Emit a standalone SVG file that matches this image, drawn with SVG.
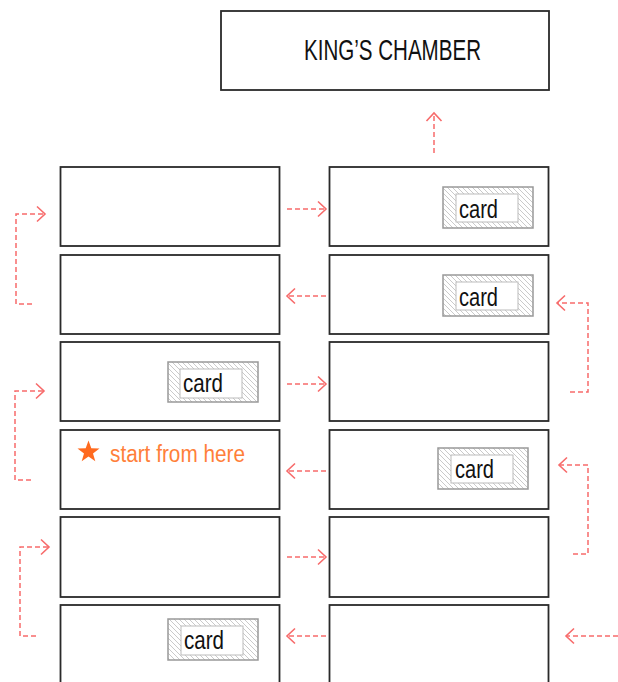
<svg xmlns="http://www.w3.org/2000/svg" width="618" height="682" viewBox="0 0 618 682">
<style>
.box{fill:#fff;stroke:#2a2a2a;stroke-width:1.8}
.outer{fill:url(#hatch);stroke:#999;stroke-width:1.5}
.inner{fill:#fff;stroke:#bbb;stroke-width:1}
.card{font-family:"Liberation Sans",Arial,sans-serif;font-size:25px;fill:#111}
.title{font-family:"Liberation Sans",Arial,sans-serif;font-size:29px;fill:#111}
.start{font-family:"Liberation Sans",Arial,sans-serif;font-size:23px;fill:#ff7f3a}
.conn{fill:none;stroke:#f76b6b;stroke-width:1.5;stroke-dasharray:5 3;marker-end:url(#arr)}
</style>
<defs>
<pattern id="hatch" patternUnits="userSpaceOnUse" width="5" height="5">
<rect width="5" height="5" fill="#fff"/>
<path d="M-1,-1 L6,6 M-1,4 L1,6 M4,-1 L6,1" stroke="#c4c4c4" stroke-width="0.9"/>
</pattern>
<marker id="arr" markerUnits="userSpaceOnUse" markerWidth="14" markerHeight="20" refX="10" refY="9" orient="auto">
<path d="M2,1.5 L10,9 L2,16.5" fill="none" stroke="#f76b6b" stroke-width="1.6" stroke-dasharray="none"/>
</marker>
</defs>

<g id="kings-chamber">
<rect class="box" x="221" y="11" width="328" height="79"/>
<text class="title" x="304" y="60" textLength="177" lengthAdjust="spacingAndGlyphs">KING’S CHAMBER</text>
</g>

<g id="L1"><rect class="box" x="60.5" y="167" width="219" height="79"/></g>
<g id="R1"><rect class="box" x="329.5" y="167" width="219" height="79"/>
<rect class="outer" x="443" y="187" width="90" height="41"/>
<rect class="inner" x="456" y="194" width="62" height="28"/>
<text class="card" x="459" y="218" textLength="39" lengthAdjust="spacingAndGlyphs">card</text>
</g>

<g id="L2"><rect class="box" x="60.5" y="255" width="219" height="79"/></g>
<g id="R2"><rect class="box" x="329.5" y="255" width="219" height="79"/>
<rect class="outer" x="443" y="275" width="90" height="41"/>
<rect class="inner" x="456" y="282" width="62" height="28"/>
<text class="card" x="459" y="306" textLength="39" lengthAdjust="spacingAndGlyphs">card</text>
</g>

<g id="L3"><rect class="box" x="60.5" y="342" width="219" height="79"/>
<rect class="outer" x="168" y="362" width="90" height="40"/>
<rect class="inner" x="180" y="369" width="62" height="29"/>
<text class="card" x="183" y="392" textLength="40" lengthAdjust="spacingAndGlyphs">card</text>
</g>
<g id="R3"><rect class="box" x="329.5" y="342" width="219" height="79"/></g>

<g id="L4"><rect class="box" x="60.5" y="430" width="219" height="79"/>
<path d="M88.5,440.5 L91.3,448.2 L99.5,448.4 L93,453.4 L95.3,461.3 L88.5,456.6 L81.7,461.3 L84,453.4 L77.5,448.4 L85.7,448.2 Z" fill="#ff6a1f"/>
<text class="start" x="110" y="462" textLength="135" lengthAdjust="spacingAndGlyphs">start from here</text>
</g>
<g id="R4"><rect class="box" x="329.5" y="430" width="219" height="79"/>
<rect class="outer" x="438" y="448" width="90" height="41"/>
<rect class="inner" x="451" y="455" width="62" height="28"/>
<text class="card" x="455" y="478" textLength="39" lengthAdjust="spacingAndGlyphs">card</text>
</g>

<g id="L5"><rect class="box" x="60.5" y="517" width="219" height="80"/></g>
<g id="R5"><rect class="box" x="329.5" y="517" width="219" height="80"/></g>

<g id="L6"><rect class="box" x="60.5" y="605" width="219" height="80"/>
<rect class="outer" x="168" y="619" width="90" height="41"/>
<rect class="inner" x="181" y="626" width="62" height="29"/>
<text class="card" x="184" y="649" textLength="40" lengthAdjust="spacingAndGlyphs">card</text>
</g>
<g id="R6"><rect class="box" x="329.5" y="605" width="219" height="80"/></g>

<g id="connectors">
<path class="conn" d="M434,153 V113"/>
<path class="conn" d="M287,209 H326"/>
<path class="conn" d="M326,296 H287"/>
<path class="conn" d="M287,384 H326"/>
<path class="conn" d="M326,471 H287"/>
<path class="conn" d="M287,557 H326"/>
<path class="conn" d="M326,636 H287"/>
<path class="conn" d="M618,636 H566"/>
<path class="conn" d="M32,304 H16 V214 H45"/>
<path class="conn" d="M31,480 H15 V391 H44"/>
<path class="conn" d="M36,636 H20 V547 H49"/>
<path class="conn" d="M570,392 H588 V303 H557"/>
<path class="conn" d="M573,554 H588 V465 H559"/>
</g>
</svg>
